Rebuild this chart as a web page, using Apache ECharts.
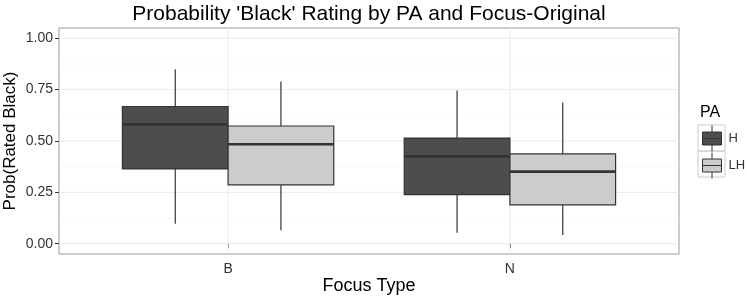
<!DOCTYPE html>
<html>
<head>
<meta charset="utf-8">
<script src="https://cdn.jsdelivr.net/npm/echarts@6/dist/echarts.min.js"></script>
<style>
html,body{margin:0;padding:0;background:#fff;}
#chart{width:747px;height:299px;}
</style>
</head>
<body>
<div id="chart"></div>
<script>
// ---- data ----
const categories = ['B', 'N'];
const groups = ['H', 'LH'];
// [min, Q1, median, Q3, max] per category
const boxH  = [[0.097, 0.364, 0.581, 0.668, 0.849], [0.053, 0.239, 0.425, 0.514, 0.746]];
const boxLH = [[0.066, 0.286, 0.484, 0.573, 0.789], [0.042, 0.189, 0.351, 0.437, 0.687]];
const yTicks = [0, 0.25, 0.5, 0.75, 1];
const yMinor = [0.125, 0.375, 0.625, 0.875];
const titleText = "Probability 'Black' Rating by PA and Focus-Original";
const xTitle = 'Focus Type';
const yTitle = 'Prob(Rated Black)';
const legendTitle = 'PA';

const FONT = '"Liberation Sans", Arial, Helvetica, sans-serif';
const fills = ['#4d4d4d', '#cccccc'];
const outline = '#333333';
const dodge = 0.75;
const boxW = dodge / groups.length;
const xPos = categories.map((c, i) => i + 1);

function boxSeries(name, idx, rows) {
  const offset = -dodge / 2 + boxW * (idx + 0.5);
  return {
    type: 'custom',
    name: name,
    z: 3,
    itemStyle: { color: fills[idx], borderColor: outline },
    encode: { x: 0, y: [1, 2, 3, 4, 5] },
    data: rows.map((r, i) => [xPos[i]].concat(r)),
    renderItem: function (params, api) {
      const cx = api.value(0) + offset;
      const w = api.size([boxW, 0])[0];
      const c = api.coord([cx, 0])[0];
      const y = k => api.coord([cx, api.value(k)])[1];
      const yMin = y(1), yQ1 = y(2), yMed = y(3), yQ3 = y(4), yMax = y(5);
      const ls = { stroke: outline, lineWidth: 1.2 };
      return {
        type: 'group',
        children: [
          { type: 'line', shape: { x1: c, y1: yQ3, x2: c, y2: yMax }, style: ls },
          { type: 'line', shape: { x1: c, y1: yQ1, x2: c, y2: yMin }, style: ls },
          { type: 'rect', shape: { x: c - w / 2, y: yQ3, width: w, height: yQ1 - yQ3 },
            style: { fill: fills[idx], stroke: outline, lineWidth: 1.2 } },
          { type: 'line', shape: { x1: c - w / 2, y1: yMed, x2: c + w / 2, y2: yMed },
            style: { stroke: outline, lineWidth: 2.6 } }
        ]
      };
    }
  };
}

function hLines(values, color, width, z) {
  return {
    type: 'custom', silent: true, z: z,
    data: values.map(v => [v]),
    encode: { y: 0 },
    renderItem: function (params, api) {
      const cs = params.coordSys;
      const yy = api.coord([1, api.value(0)])[1];
      return { type: 'line', shape: { x1: cs.x, y1: yy, x2: cs.x + cs.width, y2: yy },
        style: { stroke: color, lineWidth: width } };
    }
  };
}
function vLines(values, color, width, z) {
  return {
    type: 'custom', silent: true, z: z,
    data: values.map(v => [v]),
    encode: { x: 0 },
    renderItem: function (params, api) {
      const cs = params.coordSys;
      const xx = api.coord([api.value(0), 0.5])[0];
      return { type: 'line', shape: { x1: xx, y1: cs.y, x2: xx, y2: cs.y + cs.height },
        style: { stroke: color, lineWidth: width } };
    }
  };
}

const iconPath = 'path://M10,0L10,6.5M0,6.5L20,6.5L20,19.5L0,19.5ZM0,13L20,13M10,19.5L10,26';

const chart = echarts.init(document.getElementById('chart'), null, { renderer: 'canvas' });
chart.setOption({
  animation: false,
  backgroundColor: '#ffffff',
  textStyle: { fontFamily: FONT },
  grid: { left: 59, right: 68, top: 28, bottom: 45, containLabel: false, outerBoundsMode: 'none',
    show: true, borderColor: '#9a9a9a', borderWidth: 1, backgroundColor: '#ffffff' },
  xAxis: {
    type: 'value', min: 0.4, max: 2.6,
    name: xTitle, nameLocation: 'middle', nameGap: 23, nameMoveOverlap: false,
    nameTextStyle: { fontSize: 18, color: '#000', fontFamily: FONT },
    axisLine: { show: false },
    splitLine: { show: false },
    axisTick: { show: true, customValues: xPos, length: 4, lineStyle: { color: '#333', width: 1 } },
    axisLabel: { customValues: xPos, formatter: v => categories[Math.round(v) - 1] || '', margin: 8,
      fontSize: 14, color: '#333', fontFamily: FONT }
  },
  yAxis: {
    type: 'value', min: -0.05, max: 1.05,
    name: yTitle, nameLocation: 'middle', nameGap: 40, nameRotate: 90, nameMoveOverlap: false,
    nameTextStyle: { fontSize: 17, color: '#000', fontFamily: FONT },
    axisLine: { show: false },
    splitLine: { show: false },
    axisTick: { show: true, customValues: yTicks, length: 4, lineStyle: { color: '#333', width: 1 } },
    axisLabel: { customValues: yTicks, formatter: v => v.toFixed(2), margin: 6,
      fontSize: 14, color: '#333', fontFamily: FONT }
  },
  legend: {
    data: groups.map((g, i) => ({ name: g, icon: iconPath,
      itemStyle: { color: fills[i], borderColor: outline, borderWidth: 1 } })),
    orient: 'vertical', left: 702, top: 125, padding: 0,
    itemWidth: 19, itemHeight: 26, itemGap: 0, symbolKeepAspect: false,
    textStyle: { fontSize: 13, color: '#333', fontFamily: FONT, padding: [0, 0, 0, 2] },
    selectedMode: false
  },
  graphic: [
    { type: 'text', x: 369, y: 14, style: { text: titleText, fontSize: 21, fontFamily: FONT, fill: '#000', textAlign: 'center', textVerticalAlign: 'middle' } },
    { type: 'text', x: 700, y: 113, style: { text: legendTitle, fontSize: 16, fontFamily: FONT, fill: '#000', textAlign: 'left', textVerticalAlign: 'middle' } },
    { type: 'rect', shape: { x: 698, y: 125, width: 27, height: 26 }, style: { fill: 'none', stroke: '#cccccc', lineWidth: 1 } },
    { type: 'rect', shape: { x: 698, y: 151, width: 27, height: 26 }, style: { fill: 'none', stroke: '#cccccc', lineWidth: 1 } }
  ],
  series: [
    hLines(yMinor, '#f5f5f5', 0.6, 1),
    hLines(yTicks, '#ebebeb', 1, 1),
    vLines(xPos, '#ebebeb', 1, 1),
    boxSeries(groups[0], 0, boxH),
    boxSeries(groups[1], 1, boxLH)
  ]
});
</script>
</body>
</html>
